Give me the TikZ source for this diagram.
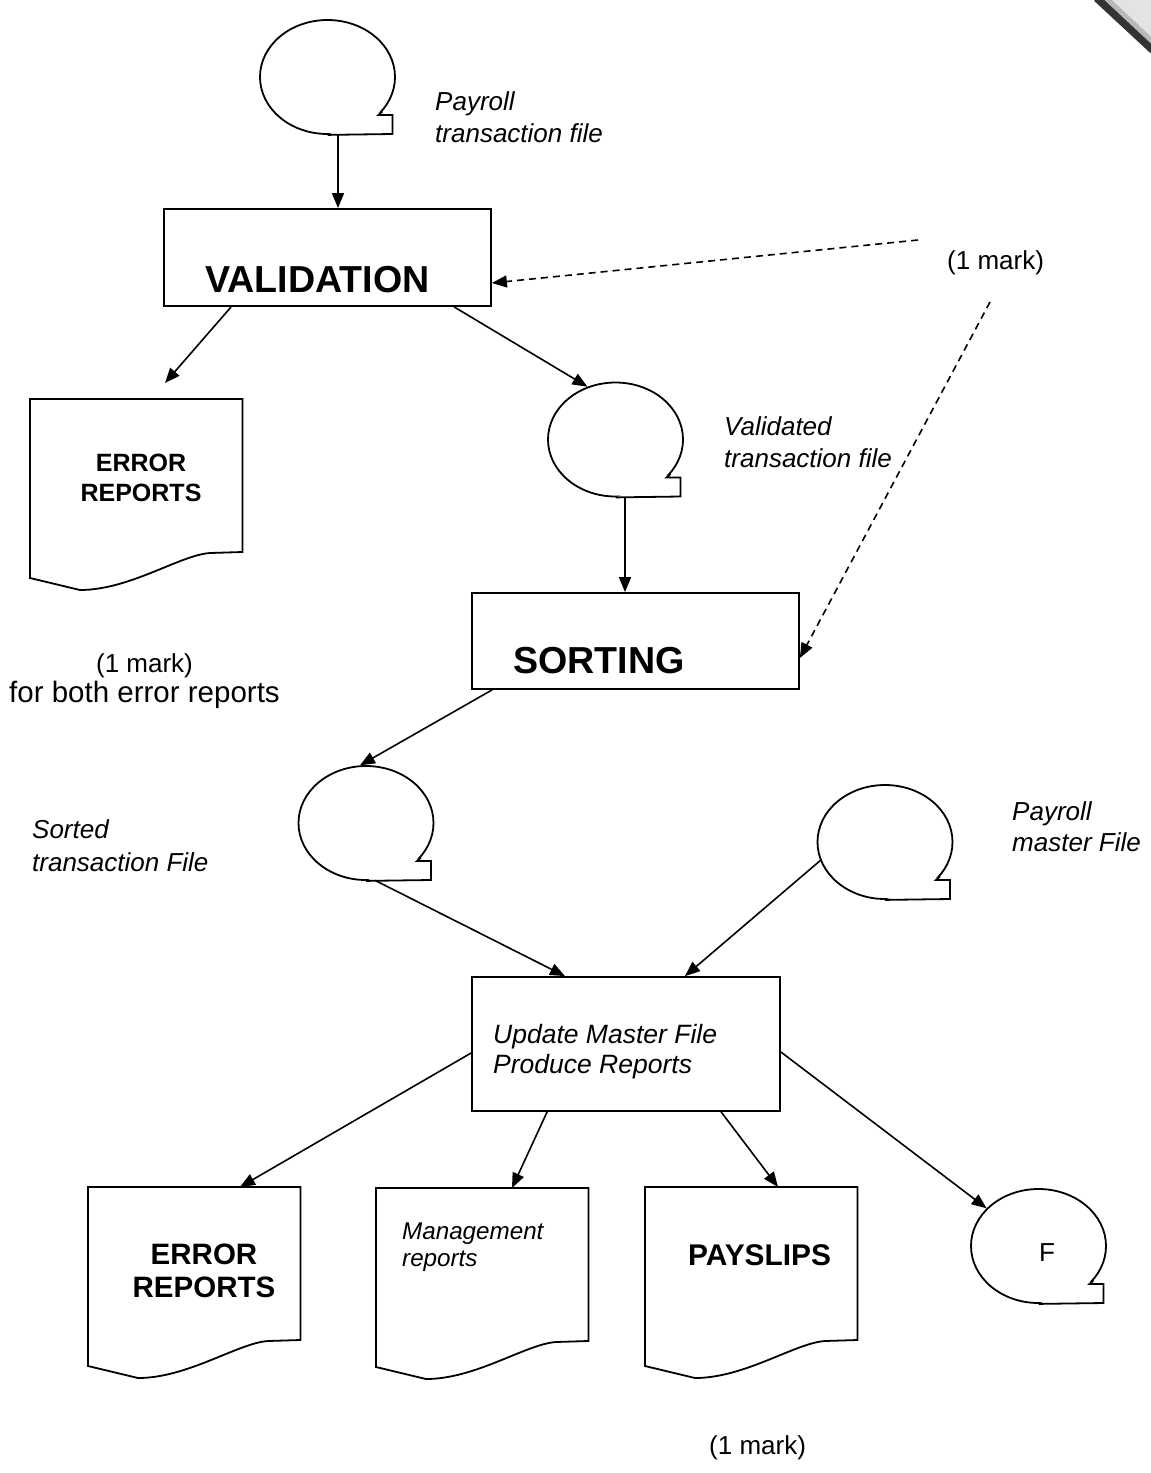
\documentclass[tikz,border=0pt]{standalone}
\usepackage{fontspec}
\setmainfont{Liberation Sans}
\usetikzlibrary{arrows.meta,shapes.geometric,calc}
\newcommand{\tapetail}[1]{%
  \fill[white] (#1.-32) -- ([shift={(51,38)}]#1.center) -- ([shift={(65,38)}]#1.center) -- ([shift={(65,57)}]#1.center) -- (#1.south) -- cycle;
  \draw[outl] (#1.-32) -- ([shift={(51,38)}]#1.center) -- ([shift={(65,38)}]#1.center) -- ([shift={(65,57)}]#1.center) -- (#1.south);
}
\newcommand{\docoutline}[1]{%
  \draw[outl] (#1.north west) -- (#1.north east) -- ([shift={(0,153)}]#1.north east) -- ([shift={(180,154)}]#1.north west) .. controls ([shift={(150,156)}]#1.north west) and ([shift={(100,191)}]#1.north west) .. ([shift={(50,191)}]#1.north west) -- ([shift={(0,179)}]#1.north west) -- cycle;
}
\begin{document}
\begin{tikzpicture}[x=1pt,y=-1pt,
  outl/.style={line width=1.8pt, line join=miter},
  arr/.style={line width=1.6pt, -{Triangle[length=15pt,width=12pt]}},
  darr/.style={arr, dash pattern=on 7pt off 5pt},
  procbox/.style={draw, line width=1.8pt, rectangle, inner sep=0},
  tape/.style={ellipse, draw, line width=1.8pt, minimum width=135pt, minimum height=114pt, inner sep=0},
  docbox/.style={rectangle, minimum width=212pt, minimum height=191pt, inner sep=0, anchor=north west},
  lbl/.style={inner sep=0, font=\itshape\fontsize{26}{32}\selectfont, align=left, anchor=north west},
  plain/.style={inner sep=0, font=\fontsize{26}{30}\selectfont},
  bigt/.style={inner sep=0, font=\bfseries\fontsize{37.6}{40}\selectfont},
  doct/.style={inner sep=0, font=\bfseries\fontsize{29.5}{33}\selectfont, align=center, anchor=north}
]
\useasboundingbox (0,0) rectangle (1151,1473);
\fill[white] (0,0) rectangle (1151,1473);
% scan artifact top right
\fill[gray!22] (1093,0) -- (1151,0) -- (1151,54) -- cycle;
\draw[line width=8pt, black!80] (1097,-2) -- (1153,50);
\draw[line width=5pt, gray!55] (1106,-2) -- (1153,42);

% process boxes
\node[procbox, minimum width=327pt, minimum height=97pt] (val) at (327.5,257.5) {};
\node[bigt, anchor=base west] (valt) at (205,292) {VALIDATION};
\node[procbox, minimum width=327pt, minimum height=96pt] (sort) at (635.5,641) {};
\node[bigt, anchor=base west] (sortt) at (513,673) {SORTING};
\node[procbox, minimum width=308pt, minimum height=134pt] (upd) at (626,1044) {};
\node[lbl, font=\itshape\fontsize{26.5}{30}\selectfont] (updt) at (493,1024) {Update Master File\\Produce Reports};

% tapes / files
\node[tape] (ptf) at (327.5,77) {};
\tapetail{ptf}
\node[tape] (vtf) at (615.5,439.5) {};
\tapetail{vtf}
\node[tape] (stf) at (366,823) {};
\tapetail{stf}
\node[tape] (pmf) at (885,842) {};
\tapetail{pmf}
\node[tape] (ftape) at (1038.5,1246) {};
\tapetail{ftape}
\node[plain] (ft) at (1047,1253) {F};

% documents
\node[docbox] (err1) at (30,399) {};
\docoutline{err1}
\node[doct, font=\bfseries\fontsize{25}{30}\selectfont] (err1t) at (141,454) {ERROR\\REPORTS};
\node[docbox] (err2) at (88,1187) {};
\docoutline{err2}
\node[doct] (err2t) at (204,1244) {ERROR\\REPORTS};
\node[docbox] (mgmt) at (376,1188) {};
\docoutline{mgmt}
\node[lbl, font=\itshape\fontsize{24.2}{27}\selectfont] (mgmtt) at (402,1222.5) {Management\\reports};
\node[docbox] (pay) at (645,1187) {};
\docoutline{pay}
\node[inner sep=0, font=\bfseries\fontsize{29.9}{33}\selectfont, anchor=base west] (payt) at (688,1265) {PAYSLIPS};

% labels
\node[lbl] (ptfl) at (435,91) {Payroll\\transaction file};
\node[lbl] (vtfl) at (724,416) {Validated\\transaction file};
\node[lbl, font=\itshape\fontsize{26}{33}\selectfont] (stfl) at (32,819) {Sorted\\transaction File};
\node[lbl, font=\itshape\fontsize{26}{31}\selectfont] (pmfl) at (1012,801) {Payroll\\master File};
\node[plain, anchor=base west] (m1) at (947,269) {(1 mark)};
\node[plain, align=center, anchor=north] (m2) at (144.5,653) {(1 mark)\\{\fontsize{29.5}{30}\selectfont for both error reports}};
\node[plain, anchor=base west] (m3) at (709,1454) {(1 mark)};

% connectors
\coordinate (ptfb) at ([xshift=10.5pt]ptf.south);
\draw[arr] (ptfb) -- (ptfb |- val.north);
\draw[arr] ([xshift=68pt]val.south west) -- ([shift={(135,-16)}]err1.north west);
\draw[arr] ([xshift=291pt]val.south west) -- (vtf.118);
\coordinate (vtfb) at ([xshift=9.5pt]vtf.south);
\draw[arr] (vtfb) -- (vtfb |- sort.north);
\coordinate (d1s) at (918,240);
\coordinate (d2s) at (990,302);
\draw[darr] (d1s) -- ([yshift=-25.5pt]val.east);
\draw[darr] (d2s) -- ([yshift=-17pt]sort.east);
\draw[arr] ([xshift=21pt]sort.south west) -- (stf.96);
\draw[arr] (stf.-81) -- ([xshift=-61pt]upd.north);
\draw[arr] (pmf.196) -- ([xshift=59pt]upd.north);
\draw[arr] ([yshift=-9pt]upd.west) -- ([xshift=152pt]err2.north west);
\draw[arr] ([xshift=76pt]upd.south west) -- ([xshift=136pt]mgmt.north west);
\draw[arr] ([xshift=250pt]upd.south west) -- ([xshift=133pt]pay.north west);
\draw[arr] ([yshift=-8pt]upd.east) -- (ftape.144);
\end{tikzpicture}
\end{document}
